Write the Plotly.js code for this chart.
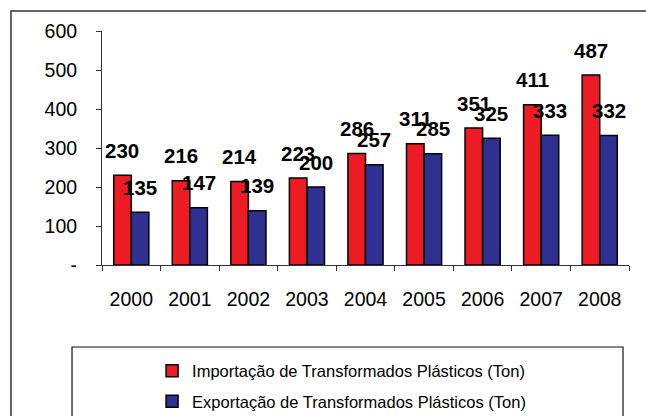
<!DOCTYPE html>
<html>
<head>
<meta charset="utf-8">
<script src="https://cdn.plot.ly/plotly-3.0.1.min.js"></script>
<style>
html,body{margin:0;padding:0;background:#fff;}
#chart{width:646px;height:416px;}
</style>
</head>
<body>
<div id="chart"></div>
<script>
const years = ['2000','2001','2002','2003','2004','2005','2006','2007','2008'];
const importacao = [230, 216, 214, 223, 286, 311, 351, 411, 487];
const exportacao = [135, 147, 139, 200, 257, 285, 325, 333, 332];
const seriesNames = ['Importação de Transformados Plásticos (Ton)', 'Exportação de Transformados Plásticos (Ton)'];
const yTickVals = [0, 100, 200, 300, 400, 500, 600];
const yTickText = ['-', '100', '200', '300', '400', '500', '600'];

const FONT = 'Liberation Sans, Arial, sans-serif';
const RED = '#ED1C24';
const BLUE = '#2E3192';

const traces = [
  {type:'bar', x: years, y: importacao, name: seriesNames[0], legendgroup:'a',
   marker:{color: RED, line:{color:'#000', width:1.5}}, hoverinfo:'none'},
  {type:'bar', x: years, y: exportacao, name: seriesNames[1], legendgroup:'b',
   marker:{color: BLUE, line:{color:'#000', width:1.5}}, hoverinfo:'none'}
];

const annotations = [];
const seriesVals = [importacao, exportacao];
const shifts = [-8.8, 8.8];
seriesVals.forEach((vals, s) => {
  vals.forEach((v, i) => {
    annotations.push({
      x: i, y: v, xref:'x', yref:'y',
      text: '<b>' + v + '</b>', showarrow:false,
      xshift: shifts[s], yshift: 25, yanchor:'middle', xanchor:'center',
      font:{family: FONT, size: 20.5, color:'#000'}
    });
  });
});

const layout = {
  width: 646, height: 416,
  margin:{l:102, r:17, t:31, b:151, pad:0, autoexpand:false},
  paper_bgcolor:'#fff', plot_bgcolor:'#fff',
  font:{family: FONT, color:'#000'},
  barmode:'group', bargap:0.40, bargroupgap:0,
  showlegend:true,
  legend:{x:0.095, xanchor:'left', y:-0.378, yanchor:'top',
          font:{family: FONT, size:16.5, color:'#000'},
          traceorder:'grouped', tracegroupgap:6, bgcolor:'rgba(0,0,0,0)'},
  xaxis:{type:'category', range:[-0.5, years.length - 0.5], autorange:false,
         showline:true, linecolor:'#333', linewidth:1,
         ticks:'outside', ticklen:5, tickcolor:'#333', tickson:'boundaries',
         tickangle:0, automargin:false,
         tickfont:{family: FONT, size:19.5, color:'#000'},
         ticklabelstandoff: 17, showgrid:false, zeroline:false, fixedrange:true},
  yaxis:{range:[0,600], autorange:false, showline:true, linecolor:'#333', linewidth:1,
         ticks:'outside', ticklen:5, tickcolor:'#333', automargin:false,
         tickvals: yTickVals, ticktext: yTickText,
         tickfont:{family: FONT, size:19.5, color:'#000'},
         ticklabelstandoff: 15, showgrid:false, zeroline:false, fixedrange:true},
  annotations: annotations,
  shapes:[
    {type:'rect', xref:'paper', yref:'paper', x0:-0.1727, x1:1.05, y0:-0.70, y1:1.0855,
     line:{color:'#333', width:1.5}, fillcolor:'rgba(0,0,0,0)', layer:'below'},
    {type:'rect', xref:'paper', yref:'paper', x0:-0.0569, x1:0.9886, y0:-0.70, y1:-0.3504,
     line:{color:'#111', width:1.2}, fillcolor:'rgba(0,0,0,0)', layer:'below'}
  ]
};

Plotly.newPlot('chart', traces, layout, {displayModeBar:false, staticPlot:true});
</script>
</body>
</html>
